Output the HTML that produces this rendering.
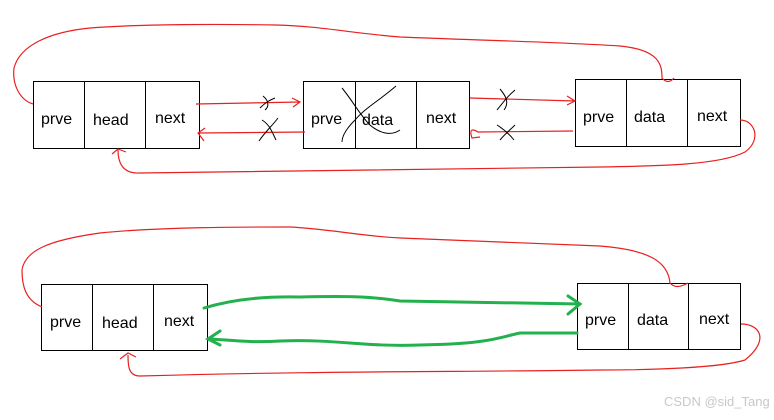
<!DOCTYPE html>
<html><head><meta charset="utf-8"><style>
body{margin:0;background:#fff;width:774px;height:415px;overflow:hidden}
svg text{font-family:"Liberation Sans",sans-serif;font-size:16px;fill:#000}
</style></head><body>
<svg width="774" height="415" viewBox="0 0 774 415">
<g fill="none" stroke="#000" stroke-width="1">
<rect x="33.5" y="81.5" width="166" height="67"/><line x1="84.5" y1="81" x2="84.5" y2="148"/><line x1="145.5" y1="81" x2="145.5" y2="148"/>
<rect x="303.5" y="81.5" width="166" height="67"/><line x1="355.5" y1="81" x2="355.5" y2="148"/><line x1="416.5" y1="81" x2="416.5" y2="148"/>
<rect x="575.5" y="79.5" width="165" height="67"/><line x1="626.5" y1="79" x2="626.5" y2="146"/><line x1="687.5" y1="79" x2="687.5" y2="146"/>
<rect x="41.5" y="284.5" width="166" height="66"/><line x1="92.5" y1="284" x2="92.5" y2="350"/><line x1="153.5" y1="284" x2="153.5" y2="350"/>
<rect x="577.5" y="283.5" width="163" height="66"/><line x1="628.5" y1="283" x2="628.5" y2="349"/><line x1="688.5" y1="283" x2="688.5" y2="349"/>
</g>
<text x="41" y="124">prve</text><text x="93" y="125">head</text><text x="155" y="123">next</text>
<text x="311" y="124">prve</text><text x="362" y="125">data</text><text x="426" y="123">next</text>
<text x="583" y="122">prve</text><text x="634" y="122">data</text><text x="697" y="121">next</text>
<text x="50" y="327">prve</text><text x="102" y="328">head</text><text x="164" y="326">next</text>
<text x="585" y="325">prve</text><text x="637" y="325">data</text><text x="699" y="324">next</text>
<g fill="none" stroke="#e82020" stroke-width="1.2">
<path d="M33 104 C20 100 12 85 14 68 C20 45 50 32 90 28 C140 24 220 24 275 25 C320 26 350 33 400 37 C470 40 560 42 620 46 C660 50 662 65 662 78 Q668 85 674 78"/>
<path d="M740 120 C755 120 762 140 745 152 C720 165 660 166 600 167 C450 168 300 170 140 173 C122 174 118 162 118 150 M112 154 L118 149 L126 152"/>
<path d="M196 104 L300 102 M292 98 L300 102 L293 107"/>
<path d="M305 132 L198 133 M205 128 L198 133 L204 141"/>
<path d="M470 98 L575 101 M567 96 L575 101 L567 105"/>
<path d="M573 131 L478 132 Q468 126 472 138 L480 137"/>
<path d="M42 307 C25 300 22 285 22 270 C25 250 50 240 100 233 C160 227 240 227 290 227 C330 229 360 236 400 238 C460 241 520 243 600 246 C650 250 668 262 670 283 Q676 290 688 283"/>
<path d="M741 324 C760 324 770 340 745 360 C720 368 650 370 600 370 C450 372 320 371 140 376 C128 376 128 365 128 355 M120 359 L128 353 L136 357"/>
</g>
<g fill="none" stroke="#22b14c" stroke-width="3" stroke-linecap="round">
<path d="M204 308 C230 300 260 296 300 297 C340 296 370 296 400 301 L580 304 M568 296 L580 304 L568 314"/>
<path d="M577 333 L520 333 C500 337 490 344 420 345 C360 347 340 339 280 341 C250 343 230 340 210 339 M220 331 L208 339 L220 345"/>
</g>
<g fill="none" stroke="#000" stroke-width="1">
<path d="M263 96 C268 100 270 106 265 110 M260 108 C266 102 270 100 275 98"/>
<path d="M262 120 C270 125 272 132 276 140 M259 141 C265 132 272 126 278 118"/>
<path d="M500 89 C505 95 510 102 504 110 M497 110 C505 100 508 96 515 90"/>
<path d="M497 125 C505 130 510 135 514 140 M500 140 C505 134 510 130 515 125"/>
<path d="M342 88 C352 100 360 115 370 125 C378 132 390 137 400 130"/>
<path d="M396 86 C380 100 365 108 355 120 C345 130 342 137 342 142"/>
</g>
<text x="664" y="406" style="font-size:13px;fill:#c8c8c8">CSDN @sid_Tang</text>
</svg>
</body></html>
